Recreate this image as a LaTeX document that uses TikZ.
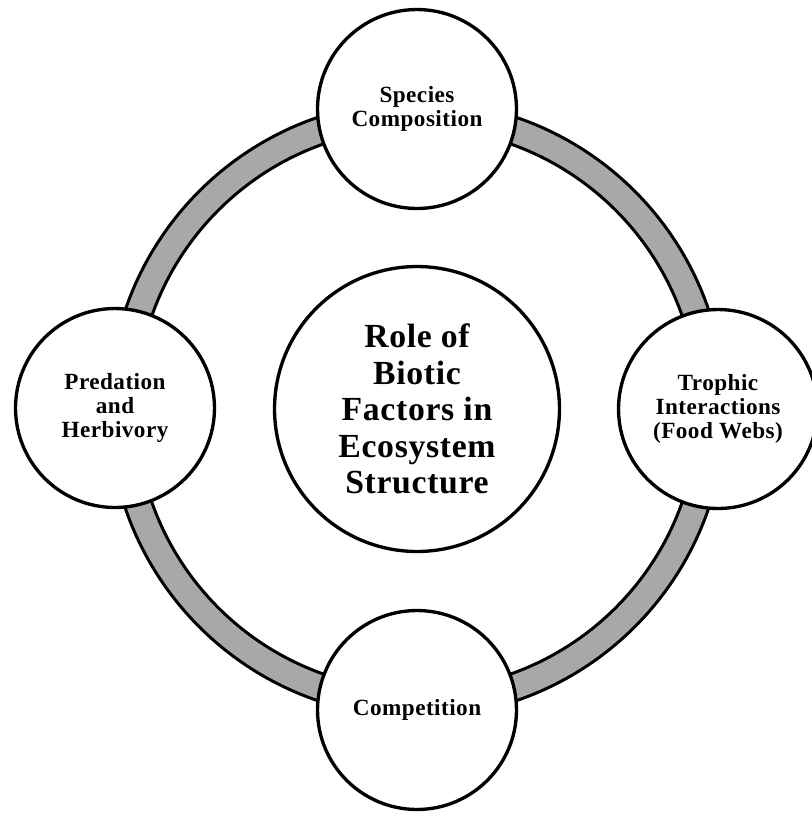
\documentclass[tikz,border=0pt]{standalone}
\usepackage{fontspec}
\newfontfamily\labelfont{Liberation Serif}[LetterSpace=2]
\definecolor{ringgray}{RGB}{168,168,168}

\def \ringouter {308}
\def \ringinner {281}
\def \smallsize {3.98cm}
\def \bigsize {5.7cm}

\tikzset{
  topic/.style={draw, circle, fill=white, line width=1.9pt, minimum size=\smallsize,
    align=center, font=\labelfont\bfseries\fontsize{13.2}{13.7}\selectfont},
  core/.style={draw, circle, fill=white, line width=1.9pt, minimum size=\bigsize,
    align=center, font=\labelfont\bfseries\fontsize{19.2}{20.7}\selectfont}
}

\begin{document}
\begin{tikzpicture}[x=0.02cm, y=-0.02cm]
\useasboundingbox (0,0) rectangle (812,816);
\coordinate (hub) at (417,409);
% grey ring behind the circles
\draw[line width=1.7pt, fill=ringgray, even odd rule] (hub) circle (\ringouter) (hub) circle (\ringinner);
\node[core] (role) at (hub) {Role of\\Biotic\\Factors in\\Ecosystem\\Structure};
\node[topic] (species) at (417,109) {Species\\Composition};
\node[topic] (trophic) at (718,409) {Trophic\\Interactions\\(Food Webs)};
\node[topic] (compet) at (417,710) {Competition};
\node[topic] (predation) at (115,408) {Predation\\and\\Herbivory};
\end{tikzpicture}
\end{document}
